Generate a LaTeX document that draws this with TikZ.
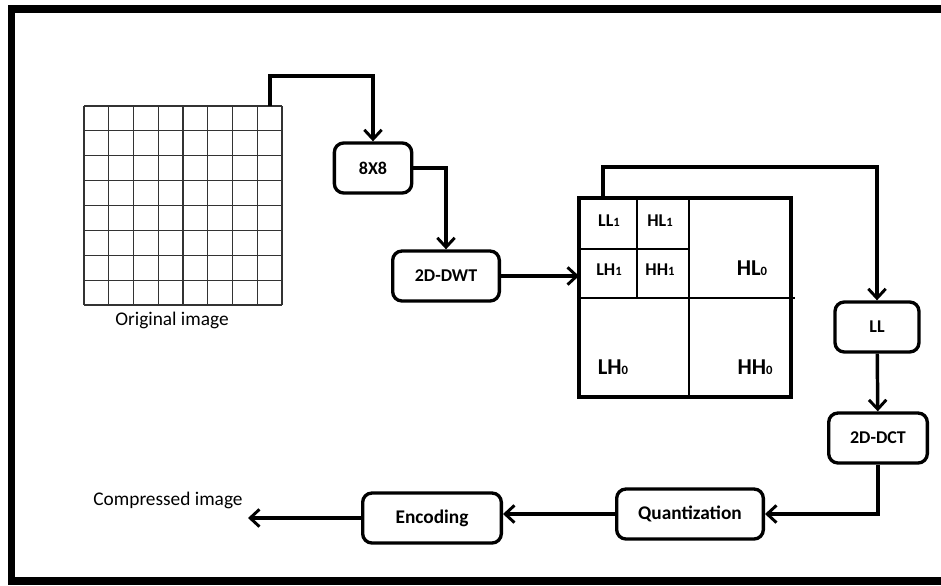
\documentclass[tikz,border=0pt]{standalone}
\usepackage{fontspec}
\setmainfont{Carlito}
\usetikzlibrary{arrows.meta}
\newcommand{\petit}[1]{{\fontsize{9.5}{10}\selectfont #1}}

\begin{document}
\begin{tikzpicture}[x=0.75pt,y=-0.75pt,
    blok/.style={draw,line width=2.5pt,rounded corners=7pt,minimum height=37.5pt,inner sep=0pt,font=\fontsize{13.5}{15}\selectfont\bfseries},
    fleche/.style={line width=2.6pt,-{Straight Barb[length=7pt,width=13pt,line width=2.2pt]}},
    bande/.style={font=\fontsize{13.5}{15}\selectfont\bfseries},
    grande/.style={font=\fontsize{17}{19}\selectfont\bfseries}]
    \clip (0,0) rectangle (941,585);
    \draw[line width=5.6pt] (11.5,9) rectangle (1000,581);
    % image originale
    \foreach \i in {0,...,8}{
        \draw[line width=0.8pt,black!80] (84+24.75*\i,106) -- (84+24.75*\i,305);
        \draw[line width=0.8pt,black!80] (84,106+24.875*\i) -- (282,106+24.875*\i);
    }
    \coordinate (coin) at (270,106);
    \node[font=\fontsize{14.5}{16}\selectfont] (orig) at (172,320) {Original image};
    \node[blok,minimum width=58pt] (huit) at (373,168) {8X8};
    \node[blok,minimum width=80pt] (dwt) at (446,276) {2D-DWT};
    % sous-bandes
    \draw[line width=2.5pt] (579,198) rectangle (791,397);
    \draw[line width=1.3pt] (579,298) -- (795,298);
    \draw[line width=1.3pt] (689,198) -- (689,397);
    \draw[line width=1.3pt] (579,249) -- (689,249);
    \draw[line width=1.3pt] (637,198) -- (637,298);
    \coordinate (sbG) at (579,276);
    \coordinate (sbH) at (603,198);
    \node[bande] (ll1) at (609,221) {LL\petit{1}};
    \node[bande] (hl1) at (660,221) {HL\petit{1}};
    \node[bande] (lh1) at (609,270) {LH\petit{1}};
    \node[bande] (hh1) at (660,270) {HH\petit{1}};
    \node[grande] (hl0) at (752,268) {HL\petit{0}};
    \node[grande] (lh0) at (613,367) {LH\petit{0}};
    \node[grande] (hh0) at (755,367) {HH\petit{0}};
    \node[blok,minimum width=63pt] (ll) at (877,327) {LL};
    \node[blok,minimum width=74pt] (dct) at (878,438) {2D-DCT};
    \node[blok,minimum width=110pt,font=\fontsize{14.5}{16}\selectfont\bfseries] (quant) at (690,514) {Quantization};
    \node[blok,minimum width=104pt,font=\fontsize{14.5}{16}\selectfont\bfseries] (enc) at (432,518) {Encoding};
    \node[font=\fontsize{14.5}{16}\selectfont] (comp) at (168,500) {Compressed image};
    \coordinate (fin) at (248,518);
    % fleches
    \draw[fleche] (coin) -- (270,76) -| (huit.north);
    \draw[fleche] (huit.east) -| (dwt.north);
    \draw[fleche] (dwt.east) -- (dwt.east -| sbG);
    \draw[fleche] (sbH) -- (603,167) -| (ll.north);
    \draw[fleche] (ll) -- (dct);
    \draw[fleche] (dct.south) |- (quant.east);
    \draw[fleche] (quant.west) -- (quant.west -| enc.east);
    \draw[fleche] (enc.west) -- (enc.west -| fin);
\end{tikzpicture}
\end{document}
